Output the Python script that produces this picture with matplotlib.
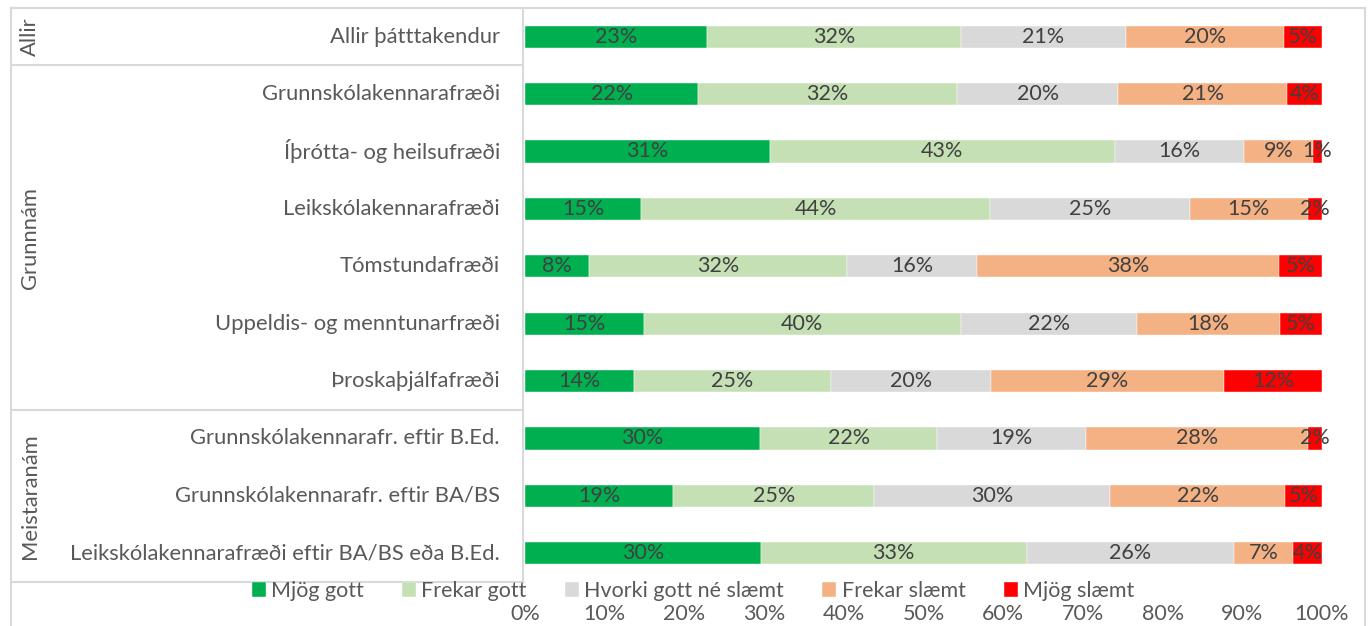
import matplotlib
matplotlib.use("Agg")
import matplotlib.pyplot as plt
import matplotlib.transforms as mtransforms
from matplotlib.lines import Line2D
import numpy as np

plt.rcParams['font.family'] = ['Lato', 'DejaVu Sans']

categories = [
    "Allir þátttakendur",
    "Grunnskólakennarafræði",
    "Íþrótta- og heilsufræði",
    "Leikskólakennarafræði",
    "Tómstundafræði",
    "Uppeldis- og menntunarfræði",
    "Þroskaþjálfafræði",
    "Grunnskólakennarafr. eftir B.Ed.",
    "Grunnskólakennarafr. eftir BA/BS",
    "Leikskólakennarafræði eftir BA/BS eða B.Ed.",
]
groups = ["Allir", "Grunnnám", "Meistaranám"]
group_rows = [(0, 0), (1, 6), (7, 9)]

series_names = ["Mjög gott", "Frekar gott", "Hvorki gott né slæmt", "Frekar slæmt", "Mjög slæmt"]
mjog_gott   = [22.8, 21.7, 30.7, 14.6,  8.0, 14.9, 13.7, 29.6, 18.6, 29.6]
frekar_gott = [31.9, 32.4, 43.3, 43.8, 32.4, 39.8, 24.7, 22.2, 25.2, 33.4]
hvorki      = [20.7, 20.2, 16.2, 25.0, 16.3, 22.1, 20.1, 18.7, 29.6, 26.1]
frekar_slaemt = [19.8, 21.1, 8.7, 14.8, 37.9, 17.9, 29.2, 27.9, 22.0, 7.4]
mjog_slaemt = [4.8, 4.4, 1.1, 1.8, 5.4, 5.3, 12.3, 1.8, 4.6, 3.6]
xticks = [0, 10, 20, 30, 40, 50, 60, 70, 80, 90, 100]

colors = ["#00B050", "#C5E0B4", "#D9D9D9", "#F4B183", "#FF0000"]
label_color = "#404040"
axis_color = "#595959"
line_color = "#D9D9D9"

W, H = 1370, 626
fig = plt.figure(figsize=(W / 100, H / 100), dpi=100)
ax = fig.add_axes([525 / W, 1 - 582 / H, 797 / W, 574 / H])

data = np.array([mjog_gott, frekar_gott, hvorki, frekar_slaemt, mjog_slaemt])
data = data / data.sum(axis=0) * 100
y = np.arange(len(categories))
left = np.zeros(len(categories))
handles = []
for i, name in enumerate(series_names):
    vals = data[i]
    bars = ax.barh(y, vals, left=left, height=0.39, color=colors[i],
                   edgecolor='white', linewidth=0.3, label=name)
    handles.append(bars)
    raw = [mjog_gott, frekar_gott, hvorki, frekar_slaemt, mjog_slaemt][i]
    for j in range(len(categories)):
        ax.text(left[j] + vals[j] / 2, y[j], f"{round(raw[j]):d}%",
                ha='center', va='center', fontsize=15.5, color=label_color)
    left = left + vals

ax.set_xlim(0, 100)
ax.set_ylim(len(categories) - 0.5, -0.5)
ax.set_xticks(xticks)
ax.set_xticklabels([f"{t}%" for t in xticks], fontsize=15.5, color=axis_color)
ax.tick_params(axis='x', length=0, pad=16)
ax.set_yticks([])
for s in ax.spines.values():
    s.set_visible(False)

# category labels
trans = mtransforms.blended_transform_factory(fig.transFigure, ax.transData)
for j, c in enumerate(categories):
    ax.text(500 / W, j, c, transform=trans, ha='right', va='center',
            fontsize=15.8, color=axis_color, clip_on=False)

# group labels
for g, (a, b) in zip(groups, group_rows):
    ax.text(30 / W, (a + b) / 2, g, transform=trans, ha='center', va='center',
            rotation=90, fontsize=15.8, color=axis_color, clip_on=False)

# table lines
xl, xr = 11 / W, 523 / W
for yb in [-0.5, 0.5, 6.5, 9.5]:
    ax.add_line(Line2D([xl, xr], [yb, yb], transform=trans, color=line_color,
                       lw=1.5, clip_on=False))
ax.add_line(Line2D([xr, xr], [-0.5, 9.5], transform=trans, color=line_color,
                   lw=1.5, clip_on=False))

# outer chart border
fig.add_artist(Line2D([11 / W, 1365 / W], [1 - 8 / H, 1 - 8 / H], transform=fig.transFigure,
                      color=line_color, lw=1.5))
fig.add_artist(Line2D([11 / W, 11 / W], [0, 1 - 8 / H], transform=fig.transFigure,
                      color=line_color, lw=1.5))
fig.add_artist(Line2D([1365 / W, 1365 / W], [0, 1 - 8 / H], transform=fig.transFigure,
                      color=line_color, lw=1.5))

leg = fig.legend(handles=handles, labels=series_names, loc='center',
                 bbox_to_anchor=(693 / W, 1 - 591 / H), ncol=5, frameon=False,
                 fontsize=15.5, handlelength=0.65, handleheight=0.65, handletextpad=0.25,
                 columnspacing=1.77, borderaxespad=0)
for t in leg.get_texts():
    t.set_color(axis_color)

fig.savefig("out.png", dpi=100)
